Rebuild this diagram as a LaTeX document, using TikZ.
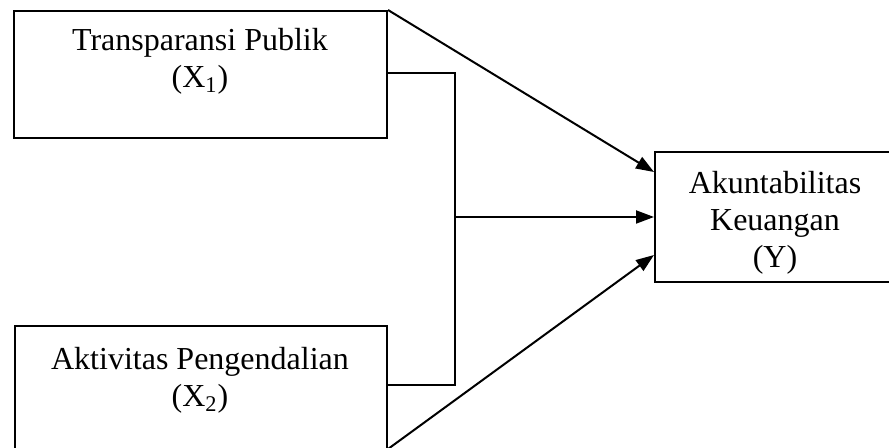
\documentclass[tikz,border=0pt]{standalone}
\usepackage{fontspec}
\setmainfont{Liberation Serif}
\usetikzlibrary{arrows.meta, positioning}

\tikzset{
    varbox/.style={draw, line width=1pt, inner sep=0pt, anchor=north west},
    vartext/.style={align=center, inner sep=0pt, anchor=north,
        font=\fontsize{16pt}{18.5pt}\selectfont},
    link/.style={line width=1pt},
    effect/.style={line width=1pt, -{Triangle[length=9pt,width=6.5pt]}}
}

\begin{document}
\begin{tikzpicture}[x=0.5pt, y=-0.5pt]
    \useasboundingbox (0,0) rectangle (889,448);

    % Variable boxes
    \node[varbox, minimum width=186.5pt, minimum height=63.5pt] (transp) at (13,10) {};
    \node[varbox, minimum width=186pt, minimum height=63pt] (aktiv) at (14,325) {};
    \node[varbox, minimum width=121pt, minimum height=65pt] (akunt) at (654,151) {};

    % Labels
    \node[vartext] (transptext) at (200,28) {Transparansi Publik\\(X\textsubscript{1})};
    \node[vartext] (aktivtext) at (200,347) {Aktivitas Pengendalian\\(X\textsubscript{2})};
    \node[vartext] (akunttext) at (775,171) {Akuntabilitas\\Keuangan\\(Y)};

    % Joint path
    \coordinate (jointtop) at (455,73);
    \coordinate (jointbot) at (455,385);
    \coordinate (jointmid) at (jointtop |- akunt.west);

    \draw[link] (jointtop -| transp.east) -- (jointtop) -- (jointbot) -- (jointbot -| aktiv.east);

    % Effects
    \draw[effect] (transp.north east) -- ([yshift=-10.5pt]akunt.north west);
    \draw[effect] (jointmid) -- (akunt.west);
    \draw[effect] ([yshift=2pt]aktiv.south east) -- ([yshift=14pt]akunt.south west);
\end{tikzpicture}
\end{document}
